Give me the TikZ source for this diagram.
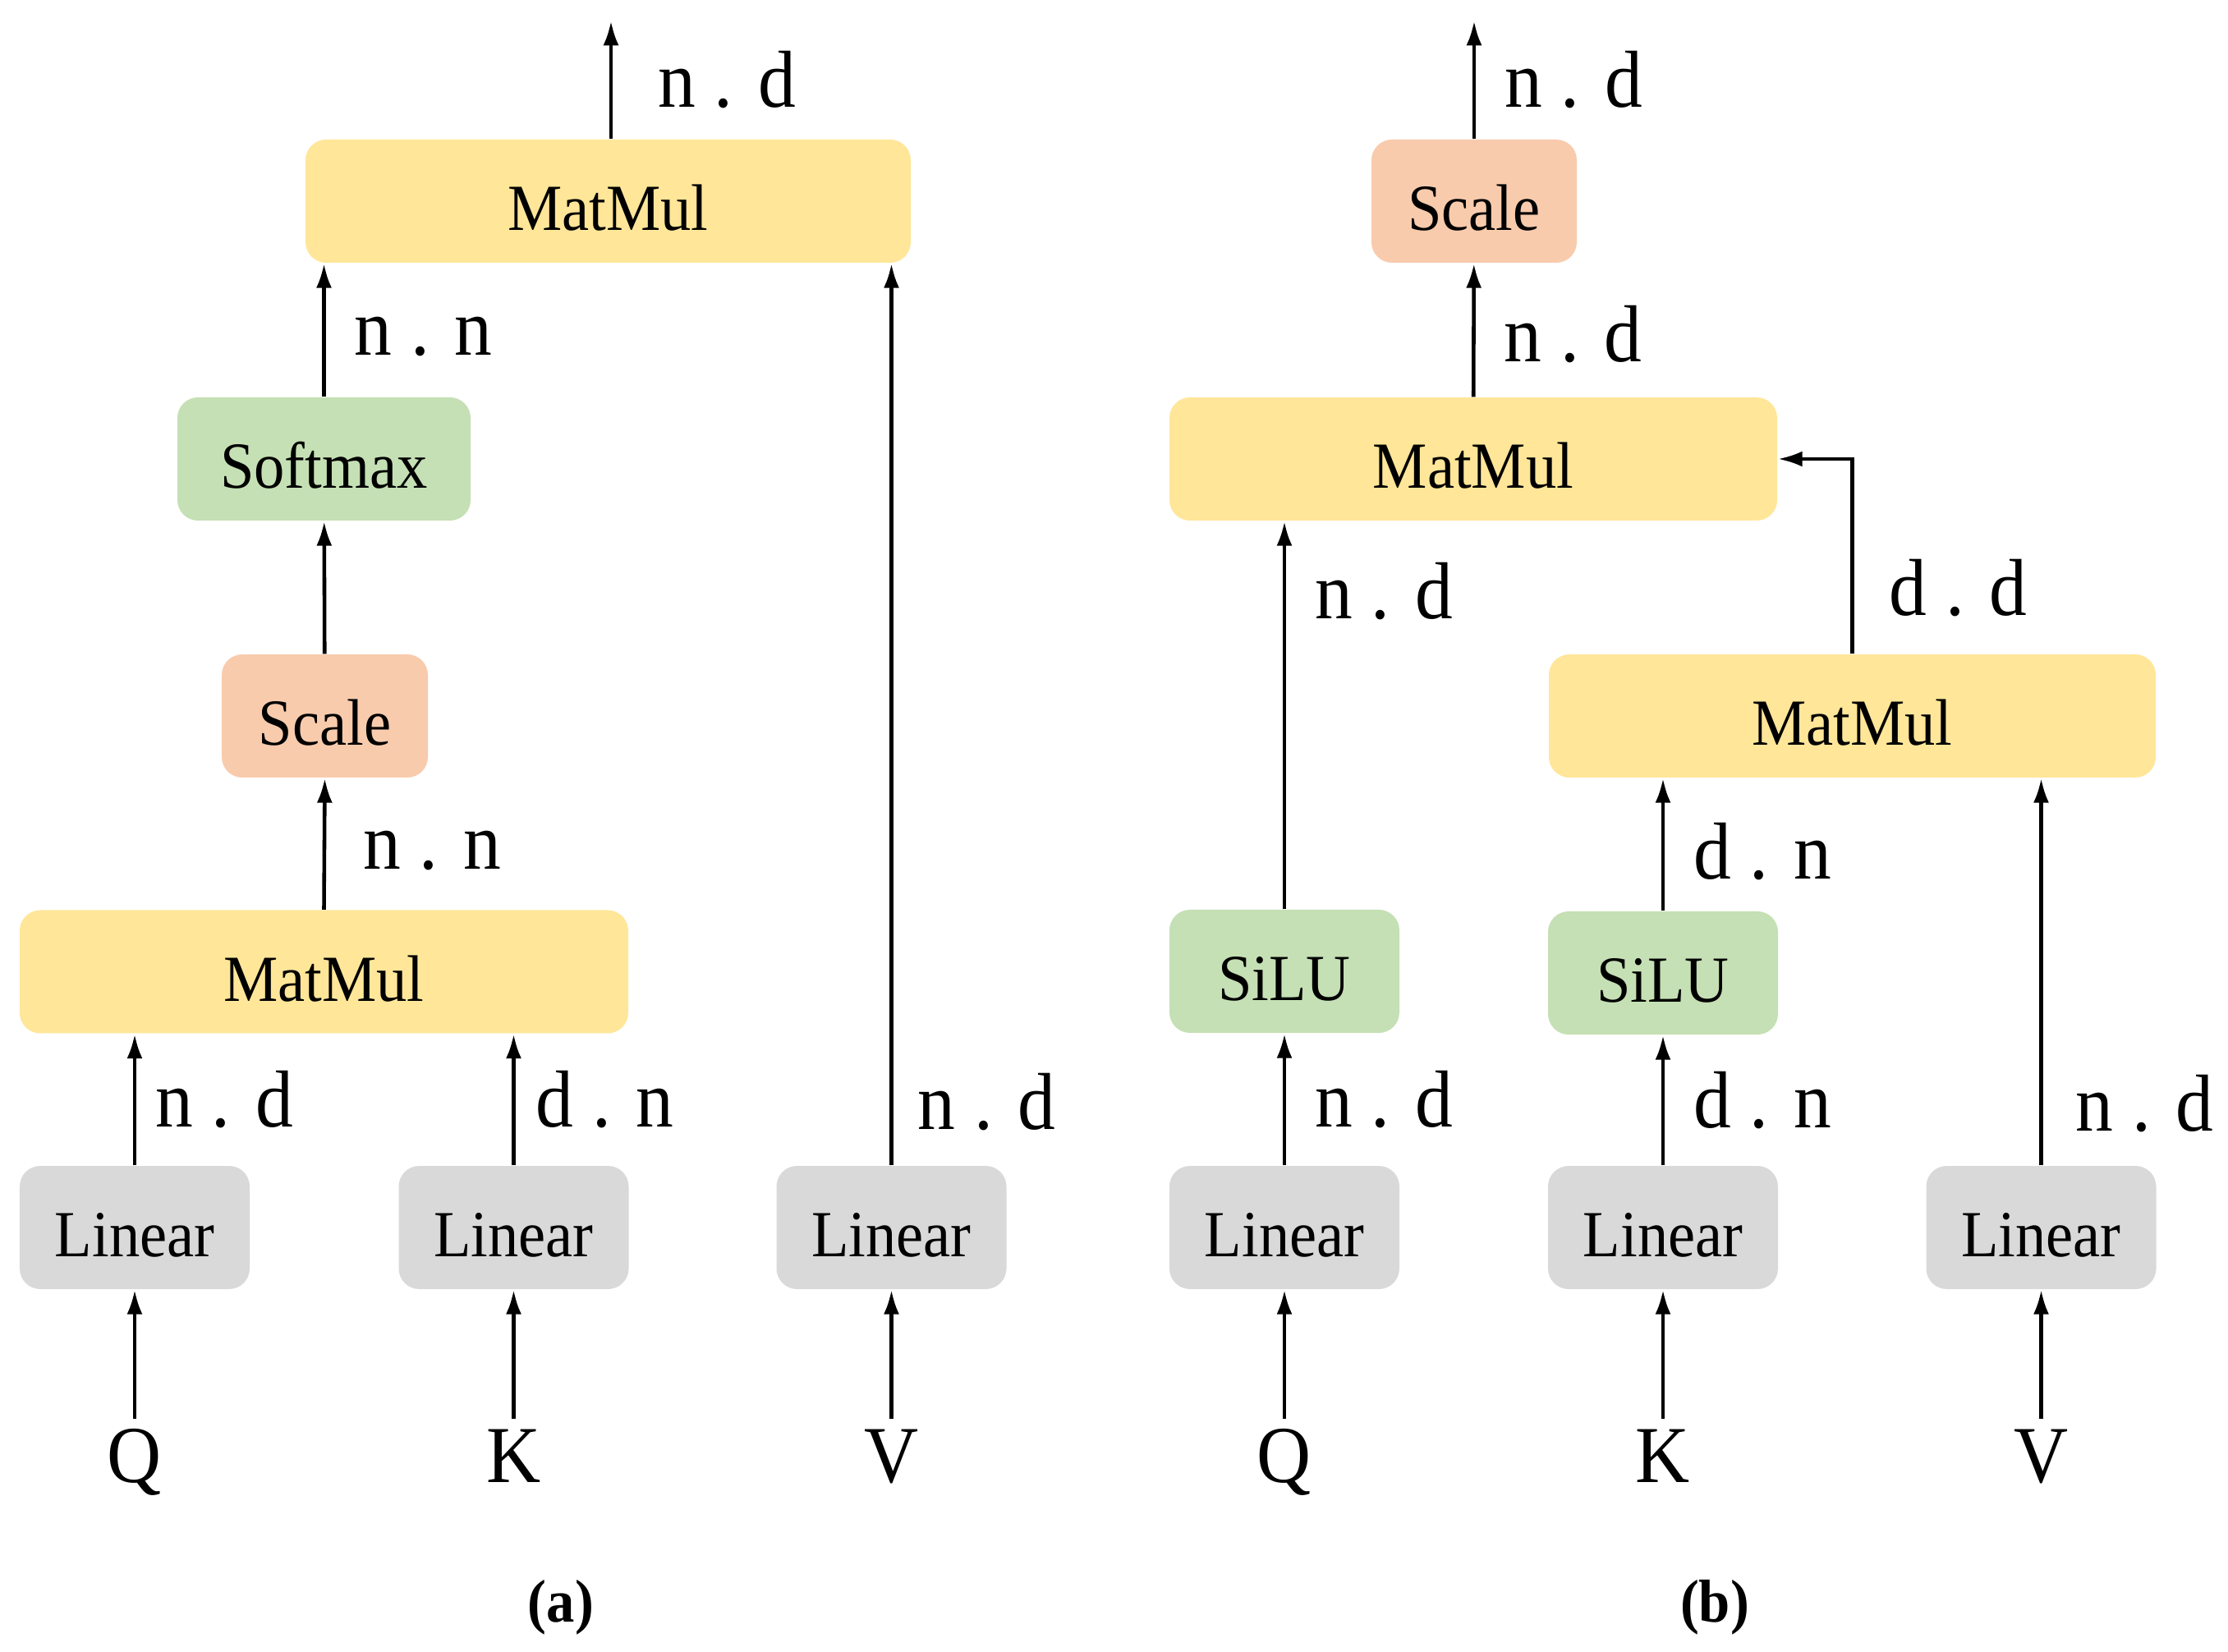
\documentclass[tikz,border=0pt]{standalone}
\usepackage{fontspec}
\setmainfont{Liberation Serif}[FakeStretch=0.93]
\definecolor{matmul}{HTML}{FFE699}
\definecolor{softmax}{HTML}{C5E0B4}
\definecolor{scalebox}{HTML}{F8CBAD}
\definecolor{linear}{HTML}{D9D9D9}
\usetikzlibrary{arrows.meta}
\tikzset{
  blk/.style={rounded corners=0.25cm, minimum height=1.5cm, inner sep=0pt, text height=0.71cm, text depth=0pt, font=\fontsize{22.8}{26}\selectfont},
  dimlbl/.style={anchor=west, inner sep=0pt, xshift=0.35cm, font=\fontsize{28}{32}\selectfont},
  inp/.style={anchor=base, inner sep=0.08cm, text height=0.68cm, text depth=0pt, font=\fontsize{28}{32}\selectfont},
  arr/.style={line width=1.3pt, -{Latex[length=3mm,width=1.9mm]}},
}

\begin{document}
\begin{tikzpicture}
  \useasboundingbox (0,0) rectangle (27.13,20.11);

  % (a)
  \node[blk, fill=matmul, minimum width=7.37cm] (mmTop) at (7.405,17.66) {MatMul};
  \node[blk, fill=softmax, minimum width=3.57cm] (softmax) at (3.945,14.52) {Softmax};
  \node[blk, fill=scalebox, minimum width=2.51cm] (scaleA) at (3.955,11.39) {Scale};
  \node[blk, fill=matmul, minimum width=7.41cm] (mmA) at (3.945,8.275) {MatMul};
  \node[blk, fill=linear, minimum width=2.8cm] (linQa) at (1.64,5.16) {Linear};
  \node[blk, fill=linear, minimum width=2.8cm] (linKa) at (6.255,5.16) {Linear};
  \node[blk, fill=linear, minimum width=2.8cm] (linVa) at (10.855,5.16) {Linear};
  \node[inp] (Qa) at (1.64,2.06) {Q};
  \node[inp] (Ka) at (6.255,2.06) {K};
  \node[inp] (Va) at (10.855,2.06) {V};
  \coordinate (outA) at ([xshift=0.35mm,yshift=1.44cm]mmTop.north);

  \draw[arr] (Qa) -- (linQa);
  \draw[arr] (Ka) -- (linKa);
  \draw[arr] (Va) -- (linVa);
  \draw[arr] (linQa.north) -- (linQa.north |- mmA.south) node[dimlbl, pos=0.5, xshift=-0.12cm] {n . d};
  \draw[arr] (linKa.north) -- (linKa.north |- mmA.south) node[dimlbl, pos=0.5, xshift=-0.1cm] {d . n};
  \draw[arr] (linVa.north) -- (linVa.north |- mmTop.south) node[dimlbl, pos=0.07, xshift=-0.05cm] {n . d};
  \draw[arr] (mmA.north) -- (scaleA.south) node[dimlbl, pos=0.45, xshift=0.1cm] {n . n};
  \draw[arr] (scaleA) -- (softmax);
  \draw[arr] (softmax.north) -- (softmax.north |- mmTop.south) node[dimlbl, pos=0.45] {n . n};
  \draw[arr] (mmTop.north -| outA) -- (outA) node[dimlbl, pos=0.5, xshift=0.2cm] {n . d};

  % (b)
  \node[blk, fill=scalebox, minimum width=2.5cm] (scaleB) at (17.95,17.66) {Scale};
  \node[blk, fill=matmul, minimum width=7.4cm] (mmB) at (17.94,14.52) {MatMul};
  \node[blk, fill=matmul, minimum width=7.39cm] (mmKV) at (22.555,11.39) {MatMul};
  \node[blk, fill=softmax, minimum width=2.8cm] (siluQ) at (15.64,8.28) {SiLU};
  \node[blk, fill=softmax, minimum width=2.8cm] (siluK) at (20.25,8.26) {SiLU};
  \node[blk, fill=linear, minimum width=2.8cm] (linQb) at (15.64,5.16) {Linear};
  \node[blk, fill=linear, minimum width=2.8cm] (linKb) at (20.25,5.16) {Linear};
  \node[blk, fill=linear, minimum width=2.8cm] (linVb) at (24.855,5.16) {Linear};
  \node[inp] (Qb) at (15.64,2.06) {Q};
  \node[inp] (Kb) at (20.25,2.06) {K};
  \node[inp] (Vb) at (24.855,2.06) {V};
  \coordinate (outB) at ([yshift=1.44cm]scaleB.north);

  \draw[arr] (Qb) -- (linQb);
  \draw[arr] (Kb) -- (linKb);
  \draw[arr] (Vb) -- (linVb);
  \draw[arr] (linQb) -- (siluQ) node[dimlbl, pos=0.5] {n . d};
  \draw[arr] (linKb) -- (siluK) node[dimlbl, pos=0.5] {d . n};
  \draw[arr] (linVb.north) -- (linVb.north |- mmKV.south) node[dimlbl, pos=0.16, xshift=0.05cm] {n . d};
  \draw[arr] (siluK.north) -- (siluK.north |- mmKV.south) node[dimlbl, pos=0.45] {d . n};
  \draw[arr] (siluQ.north) -- (siluQ.north |- mmB.south) node[dimlbl, pos=0.82] {n . d};
  \draw[arr] (mmKV.north) |- (mmB.east) node[dimlbl, pos=0.17, xshift=0.08cm] {d . d};
  \draw[arr] (mmB) -- (scaleB) node[dimlbl, pos=0.47] {n . d};
  \draw[arr] (scaleB) -- (outB) node[dimlbl, pos=0.5] {n . d};

  \node[font=\fontsize{21}{24}\selectfont\bfseries] (capA) at (6.83,0.53) {(a)};
  \node[font=\fontsize{21}{24}\selectfont\bfseries] (capB) at (20.88,0.53) {(b)};
\end{tikzpicture}
\end{document}
